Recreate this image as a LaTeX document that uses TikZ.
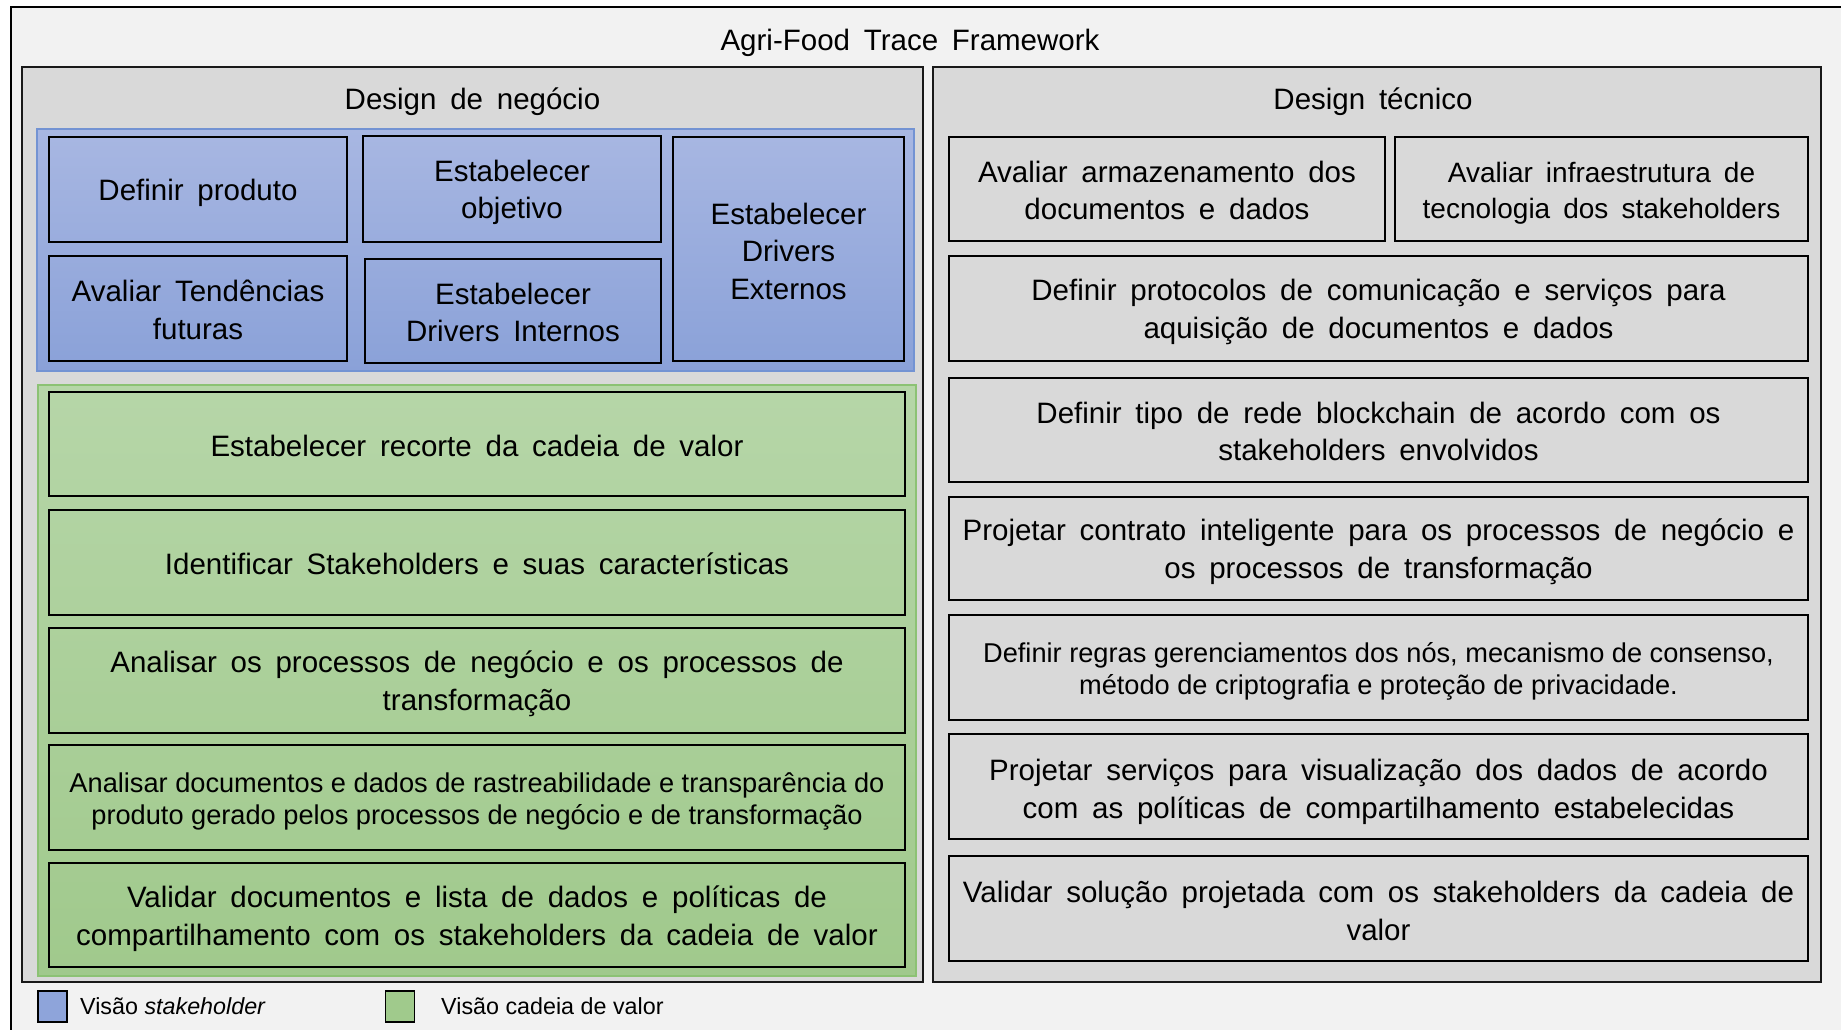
\documentclass[tikz,border=0pt]{standalone}
\usepackage{fontspec}
\setmainfont{Liberation Sans}[WordSpace=1.68]
\newfontfamily\tightf{Liberation Sans}[WordSpace=0.8]
\newfontfamily\normf{Liberation Sans}
\definecolor{outerbg}{HTML}{F2F2F2}
\definecolor{panelgray}{HTML}{D9D9D9}
\definecolor{bluetop}{HTML}{A8B7E2}
\definecolor{bluebot}{HTML}{8AA1D8}
\definecolor{blueedge}{HTML}{7393D3}
\definecolor{greentop}{HTML}{B6D6A8}
\definecolor{greenbot}{HTML}{A0C98C}
\definecolor{greenedge}{HTML}{8CC274}
\definecolor{legblue}{HTML}{8EA4DA}
\definecolor{leggreen}{HTML}{A0CA8C}
\tikzset{
  maintext/.style={font=\fontsize{29.5}{37.5}\selectfont, align=center},
  smalltext/.style={font=\tightf\fontsize{27.2}{32}\selectfont, align=center},
  boxtext/.style={maintext, yshift=-3.5pt},
  boxsmall/.style={smalltext, yshift=-3.5pt},
  taskbox/.style={draw=black, line width=1.8pt, inner sep=0pt, outer sep=0pt},
  panelbox/.style={draw=black!90, fill=panelgray, line width=1.6pt},
  legbox/.style={draw=black, line width=1.5pt, inner sep=0pt, minimum width=29pt, minimum height=31pt},
  legtext/.style={font=\normf\fontsize{23.3}{28}\selectfont, anchor=west, inner sep=0pt}
}
\begin{document}
\begin{tikzpicture}[x=1pt,y=-1pt]
\useasboundingbox (0,0) rectangle (1841,1030);
\fill[white] (0,0) rectangle (1841,1030);
\clip (0,0) rectangle (1841,1030);
% outer frame
\draw[fill=outerbg, line width=2.5pt] (11,7) rectangle (1860,1050);
\node[maintext] (title) at (910,42.5) {Agri-Food Trace Framework};
% panels
\draw[panelbox] (22,67) rectangle (923,982);
\draw[panelbox] (933,67) rectangle (1821,982);
\node[maintext] (lefttitle) at (472.5,101.5) {Design de negócio};
\node[maintext] (righttitle) at (1373,101.5) {Design técnico};
% blue region
\draw[draw=blueedge, line width=1.5pt, top color=bluetop, bottom color=bluebot] (37,129) rectangle (914,371);
\node[taskbox, minimum width=298pt, minimum height=105pt, label={[boxtext]center:{Definir produto}}] (bp) at (198,189.5) {};
\node[taskbox, minimum width=298pt, minimum height=106pt, label={[boxtext]center:{Estabelecer\\objetivo}}] (bo) at (512,189) {};
\node[taskbox, minimum width=298pt, minimum height=105pt, label={[boxtext, yshift=2pt]center:{Avaliar Tendências\\futuras}}] (bt) at (198,308.5) {};
\node[taskbox, minimum width=296pt, minimum height=104pt, label={[boxtext, yshift=2pt]center:{Estabelecer\\Drivers Internos}}] (bi) at (513,311) {};
\node[taskbox, minimum width=231pt, minimum height=224pt, label={[boxtext, yshift=1.5pt]center:{Estabelecer\\Drivers\\Externos}}] (be) at (788.5,249) {};
% green region
\draw[draw=greenedge, line width=1.5pt, top color=greentop, bottom color=greenbot] (38,385) rectangle (916,976);
\node[taskbox, minimum width=856pt, minimum height=104pt, label={[boxtext, yshift=2pt]center:{Estabelecer recorte da cadeia de valor}}] (g1) at (477,444) {};
\node[taskbox, minimum width=856pt, minimum height=105pt, label={[boxtext, yshift=2pt]center:{Identificar Stakeholders e suas características}}] (g2) at (477,562.5) {};
\node[taskbox, minimum width=856pt, minimum height=105pt, label={[boxtext]center:{Analisar os processos de negócio e os processos de\\transformação}}] (g3) at (477,680.5) {};
\node[taskbox, minimum width=856pt, minimum height=105pt, label={[boxsmall]center:{Analisar documentos e dados de rastreabilidade e transparência do\\produto gerado pelos processos de negócio e de transformação}}] (g4) at (477,797.5) {};
\node[taskbox, minimum width=856pt, minimum height=104pt, label={[boxtext]center:{Validar documentos e lista de dados e políticas de\\compartilhamento com os stakeholders da cadeia de valor}}] (g5) at (477,915) {};
% technical design
\node[taskbox, minimum width=436pt, minimum height=104pt, label={[boxtext, yshift=2pt]center:{Avaliar armazenamento dos\\documentos e dados}}] (r1a) at (1167,189) {};
\node[taskbox, minimum width=413pt, minimum height=104pt, label={[boxtext, font=\fontsize{28}{35.5}\selectfont, yshift=-1pt]center:{Avaliar infraestrutura de\\tecnologia dos stakeholders}}] (r1b) at (1601.5,189) {};
\node[taskbox, minimum width=859pt, minimum height=105pt, label={[boxtext]center:{Definir protocolos de comunicação e serviços para\\aquisição de documentos e dados}}] (r2) at (1378.5,308.5) {};
\node[taskbox, minimum width=859pt, minimum height=104pt, label={[boxtext, yshift=2pt]center:{Definir tipo de rede blockchain de acordo com os\\stakeholders envolvidos}}] (r3) at (1378.5,430) {};
\node[taskbox, minimum width=859pt, minimum height=103pt, label={[boxtext]center:{Projetar contrato inteligente para os processos de negócio e\\os processos de transformação}}] (r4) at (1378.5,548.5) {};
\node[taskbox, minimum width=859pt, minimum height=105pt, label={[boxsmall]center:{Definir regras gerenciamentos dos nós, mecanismo de consenso,\\método de criptografia e proteção de privacidade.}}] (r5) at (1378.5,667.5) {};
\node[taskbox, minimum width=859pt, minimum height=105pt, label={[boxtext, yshift=-2pt]center:{Projetar serviços para visualização dos dados de acordo\\com as políticas de compartilhamento estabelecidas}}] (r6) at (1378.5,786.5) {};
\node[taskbox, minimum width=859pt, minimum height=105pt, label={[boxtext, yshift=1pt]center:{Validar solução projetada com os stakeholders da cadeia de\\valor}}] (r7) at (1378.5,908.5) {};
% legend
\node[legbox, fill=legblue] (lb) at (52.5,1006.5) {};
\node[legtext] (lbt) at (80,1006) {Visão \textit{stakeholder}};
\node[legbox, fill=leggreen] (lg) at (400,1006.5) {};
\node[legtext] (lgt) at (441,1006) {Visão cadeia de valor};
\end{tikzpicture}
\end{document}
